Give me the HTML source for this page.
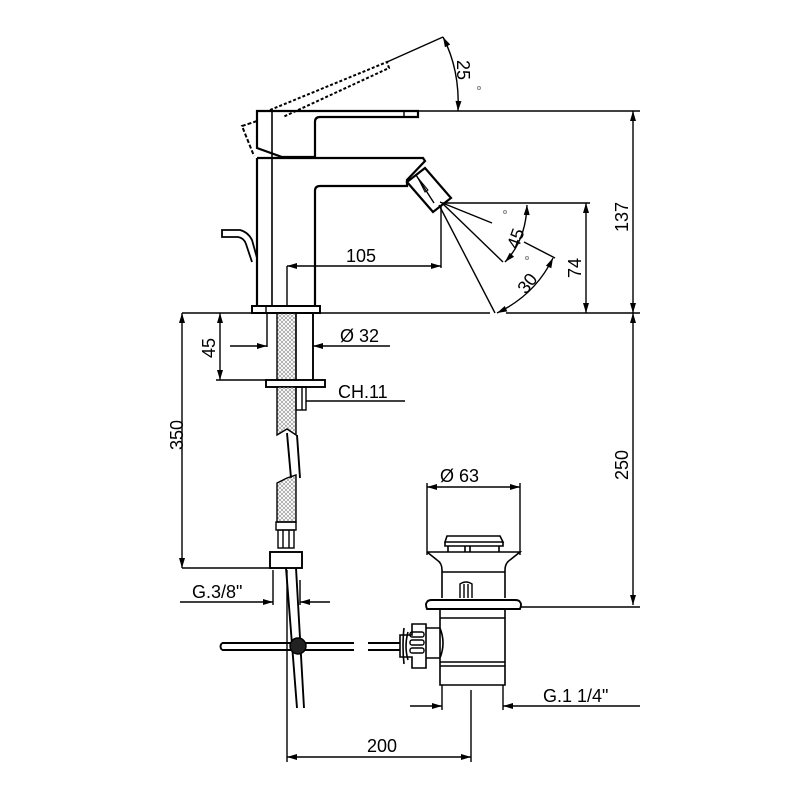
<!DOCTYPE html>
<html><head><meta charset="utf-8"><style>
html,body{margin:0;padding:0;background:#fff;width:800px;height:800px;overflow:hidden}
text{font-family:"Liberation Sans",Arial,sans-serif;font-size:18px;fill:#000}
</style></head><body>
<svg width="800" height="800" viewBox="0 0 800 800" xmlns="http://www.w3.org/2000/svg">
<defs>
<marker id="a" viewBox="0 0 10 6" refX="10" refY="3" markerWidth="11" markerHeight="6" orient="auto-start-reverse" markerUnits="userSpaceOnUse"><path d="M0,0L10,3L0,6z" fill="#000"/></marker>
<pattern id="h" width="4" height="4" patternUnits="userSpaceOnUse"><path d="M0,0L4,4M4,0L0,4" stroke="#888" stroke-width="0.6"/></pattern>
</defs>
<g fill="none" stroke="#000" stroke-width="1.4">
<path d="M257,111 H418 V117 H320 Q315,117 315,122 V157 H282 L257,148 Z" stroke-width="2.2"/>
<line x1="272" y1="111" x2="272" y2="157" stroke-width="1.6"/>
<line x1="404" y1="111" x2="404" y2="117"/>
<path d="M270,110 L387,62 L389,68 L283,117" stroke-dasharray="3,2" stroke-width="2"/>
<path d="M257,121 L242,126 L254,156" stroke-dasharray="4,2" stroke-width="2"/>
<path d="M257,158 H423 L425,161 L407,180 V186 H320 Q315,186 315,191 V306 M257,158 V306" stroke-width="2.2"/>
<line x1="272" y1="158" x2="272" y2="306" stroke-width="1.6"/>
<rect x="252" y="306" width="68" height="7" stroke-width="2"/>
<line x1="266" y1="306" x2="266" y2="313"/>
<path d="M257,258 L252,240 Q248,232 240,230 H222 V237 H238 Q244,238 246,244 L252,262" stroke-width="1.8"/>
<path d="M407,182 L425,168 L451,198 L433,212 Z" stroke-width="2.2"/>
<line x1="416" y1="175" x2="434" y2="203"/>
<path d="M418,178 L428,190 L425,192 Z" stroke-width="1"/>
<line x1="440" y1="202" x2="492" y2="223"/>
<line x1="442" y1="203" x2="503" y2="262"/>
<line x1="439" y1="205" x2="495" y2="313"/>
<line x1="524" y1="242" x2="555" y2="258"/>
<line x1="418" y1="111" x2="640" y2="111"/>
<line x1="320" y1="313" x2="490" y2="313"/>
<line x1="506" y1="313" x2="640" y2="313"/>
<line x1="443" y1="203" x2="590" y2="203"/>
<line x1="633" y1="111" x2="633" y2="313" marker-start="url(#a)" marker-end="url(#a)"/>
<line x1="586" y1="203" x2="586" y2="313" marker-start="url(#a)" marker-end="url(#a)"/>
<line x1="441" y1="205" x2="441" y2="268"/>
<line x1="287" y1="266" x2="287" y2="306"/>
<line x1="287" y1="266" x2="441" y2="266" marker-start="url(#a)" marker-end="url(#a)"/>
<line x1="387" y1="62" x2="443" y2="37"/>
<path d="M443,37 Q460,70 458,111" marker-start="url(#a)" marker-end="url(#a)"/>
<path d="M527,205 Q526,240 505,262" marker-start="url(#a)" marker-end="url(#a)"/>
<path d="M553,258 Q535,295 497,313" marker-start="url(#a)" marker-end="url(#a)"/>
<rect x="277" y="313" width="19" height="67" fill="url(#h)"/>
<line x1="296" y1="313" x2="296" y2="380"/>
<line x1="313" y1="313" x2="313" y2="380" stroke-width="1.9"/>
<line x1="267" y1="313" x2="267" y2="347"/>
<rect x="266" y="380" width="59" height="7" stroke-width="1.9"/>
<path d="M277,387 V435 L287,429 L296,435 V387" fill="url(#h)"/>
<rect x="296" y="387" width="10" height="23"/>
<line x1="302" y1="387" x2="302" y2="410"/>
<line x1="306" y1="401" x2="405" y2="401"/>
<path d="M287,433 L291,478 M297,435 L300,478" stroke-width="1.9"/>
<path d="M277,483 L287,478 L296,475 V522 H277 Z" fill="url(#h)"/>
<rect x="276" y="522" width="20" height="8"/>
<rect x="278" y="530" width="16" height="18"/>
<line x1="283" y1="530" x2="283" y2="548"/><line x1="289" y1="530" x2="289" y2="548"/>
<rect x="270" y="552" width="32" height="16" stroke-width="1.9"/>
<path d="M286,568 L297,708 M296,568 L304,708" stroke-width="1.9"/>
<path d="M222,643 H354 M222,650 H354 M222,643 Q219,646.5 222,650 M368,643 H400 M368,650 H400" stroke-width="1.9"/>
<circle cx="298" cy="646" r="8" fill="#222"/>
<line x1="182" y1="313" x2="252" y2="313"/>
<line x1="182" y1="313" x2="182" y2="568" marker-start="url(#a)" marker-end="url(#a)"/>
<line x1="182" y1="568" x2="272" y2="568"/>
<line x1="220" y1="313" x2="220" y2="380" marker-start="url(#a)" marker-end="url(#a)"/>
<line x1="216" y1="380" x2="266" y2="380"/>
<line x1="230" y1="346" x2="267" y2="346" marker-end="url(#a)"/>
<line x1="390" y1="346" x2="313" y2="346" marker-end="url(#a)"/>
<line x1="273" y1="570" x2="273" y2="605"/>
<line x1="300" y1="580" x2="300" y2="605"/>
<line x1="180" y1="602" x2="273" y2="602" marker-end="url(#a)"/>
<line x1="330" y1="602" x2="300" y2="602" marker-end="url(#a)"/>
<line x1="633" y1="313" x2="633" y2="605" marker-start="url(#a)" marker-end="url(#a)"/>
<line x1="520" y1="607" x2="640" y2="607"/>
<line x1="427" y1="483" x2="427" y2="555"/>
<line x1="520" y1="483" x2="520" y2="555"/>
<line x1="427" y1="487" x2="520" y2="487" marker-start="url(#a)" marker-end="url(#a)"/>
<path d="M445,542 L447,536 H500 L503,542 Z M445,542 V546 H503 V542 M448,546 V552 M499,546 V552 M465,546 V552 M470,546 V552" stroke-width="1.6"/>
<path d="M427,552 H520 L510,560 Q505,563 505,570 V598 M427,552 L437,560 Q442,563 442,570 V598 M442,572 H505" stroke-width="1.6"/>
<path d="M460,598 V584 Q466,580 472,584 V598 M464,584 V598 M468,584 V598"/>
<path d="M427,602 Q425,604 427,609 H520 Q522,604 520,602 Q519,600 515,600 H432 Q428,600 427,602 Z" stroke-width="1.9"/>
<path d="M440,609 V662 H505 V609 M440,618 H505 M440,662 V685 H505 V662 M440,666 H505 M440,628 H426 M440,658 H426 M440,628 Q446,643 440,658" stroke-width="1.6"/>
<path d="M400,635 H412 V624 H426 V668 H412 V657 H400 Z M408,632 Q404,646 408,660 M404,628 Q402,646 404,664" stroke-width="1.6"/>
<rect x="410" y="632" width="14" height="5" rx="2"/><rect x="410" y="640" width="14" height="5" rx="2"/><rect x="410" y="648" width="14" height="5" rx="2"/>
<line x1="442" y1="685" x2="442" y2="710"/>
<line x1="503" y1="685" x2="503" y2="710"/>
<line x1="410" y1="706" x2="442" y2="706" marker-end="url(#a)"/>
<line x1="640" y1="706" x2="503" y2="706" marker-end="url(#a)"/>
<line x1="471" y1="690" x2="471" y2="762"/>
<line x1="287" y1="570" x2="287" y2="762"/>
<line x1="287" y1="757" x2="471" y2="757" marker-start="url(#a)" marker-end="url(#a)"/>
</g>
<circle cx="479" cy="88" r="1.5" fill="none" stroke="#888"/>
<circle cx="505" cy="212" r="1.5" fill="none" stroke="#888"/>
<circle cx="527" cy="258" r="1.5" fill="none" stroke="#888"/>
<text transform="translate(457,60) rotate(90)">25</text>
<text transform="translate(628,232) rotate(-90)">137</text>
<text transform="translate(581,278) rotate(-90)">74</text>
<text x="346" y="262">105</text>
<text transform="translate(518,250) rotate(-70)">45</text>
<text transform="translate(526,295) rotate(-52)">30</text>
<text x="340" y="342">Ø 32</text>
<text transform="translate(215,358) rotate(-90)">45</text>
<text transform="translate(183,450) rotate(-90)">350</text>
<text x="338" y="398">CH.11</text>
<text transform="translate(628,480) rotate(-90)">250</text>
<text x="440" y="482">Ø 63</text>
<text x="192" y="598">G.3/8"</text>
<text x="543" y="702">G.1 1/4"</text>
<text x="367" y="752">200</text>
</svg>
</body></html>
